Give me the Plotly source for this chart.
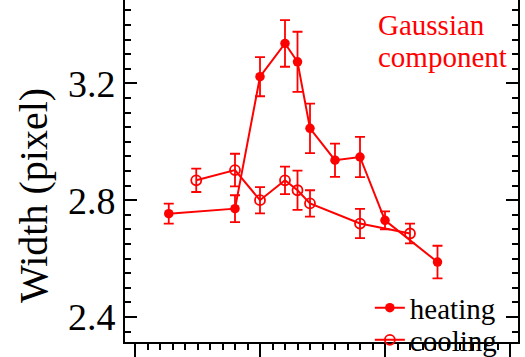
import plotly.graph_objects as go

# Data (x in arbitrary axis units; major ticks every 10)
heat_x = [2.7, 8.0, 10.0, 12.0, 13.0, 14.0, 16.0, 18.0, 20.0, 24.2]
heat_y = [2.754, 2.771, 3.223, 3.337, 3.274, 3.046, 2.937, 2.948, 2.731, 2.588]
heat_err = [0.034, 0.046, 0.067, 0.080, 0.103, 0.085, 0.057, 0.069, 0.031, 0.056]

cool_x = [4.9, 8.0, 10.0, 12.0, 13.0, 14.0, 18.0, 22.0]
cool_y = [2.868, 2.903, 2.800, 2.868, 2.834, 2.789, 2.720, 2.686]
cool_err = [0.040, 0.056, 0.045, 0.047, 0.067, 0.045, 0.050, 0.034]

y_ticks = [2.4, 2.8, 3.2]
y_ticktext = ["2.4", "2.8", "3.2"]

RED = "#FF0000"
SERIF = "Liberation Serif, Times New Roman, DejaVu Serif, serif"

fig = go.Figure()
fig.add_trace(go.Scatter(
    x=heat_x, y=heat_y, mode="lines+markers", name="heating",
    line=dict(color=RED, width=2),
    marker=dict(symbol="circle", size=9.5, color=RED),
    error_y=dict(type="data", array=heat_err, color=RED, thickness=1.8, width=5),
    legend="legend",
))
fig.add_trace(go.Scatter(
    x=cool_x, y=cool_y, mode="lines+markers", name="cooling",
    line=dict(color=RED, width=2),
    marker=dict(symbol="circle-open", size=10, color=RED, line=dict(width=1.8, color=RED)),
    error_y=dict(type="data", array=cool_err, color=RED, thickness=1.8, width=5),
    legend="legend2",
))

fig.update_layout(
    width=525, height=357,
    margin=dict(l=125, r=7, t=0, b=15, autoexpand=False),
    paper_bgcolor="white", plot_bgcolor="white",
    showlegend=True,
    font=dict(family=SERIF),
    xaxis=dict(
        range=[-0.8, 30.64], showline=True, linecolor="black", linewidth=2,
        ticks="outside", tickvals=[0, 10, 20, 30], ticklen=13, tickwidth=2, tickcolor="black",
        minor=dict(dtick=1, ticks="outside", ticklen=6, tickwidth=1.5, tickcolor="black"),
        showticklabels=False, showgrid=False, zeroline=False, mirror=False,
    ),
    xaxis2=dict(
        overlaying="x", matches="x", range=[-0.8, 30.64], side="bottom", anchor="y",
        ticks="outside", tickvals=[5, 15, 25], ticklen=10, tickwidth=1.5, tickcolor="black",
        showticklabels=False, showgrid=False, zeroline=False, showline=False,
    ),
    yaxis=dict(
        range=[2.3143, 3.4857], showline=True, linecolor="black", linewidth=2,
        ticks="inside", tickvals=y_ticks, ticktext=y_ticktext, ticklen=12, tickwidth=2,
        tickcolor="black",
        minor=dict(dtick=0.05, ticks="inside", ticklen=6, tickwidth=1.5, tickcolor="black"),
        mirror="ticks", showgrid=False, zeroline=False,
        tickfont=dict(family=SERIF, size=38, color="black"),
    ),
    legend=dict(
        x=0.623, y=0.10, xanchor="left", yanchor="middle", bgcolor="rgba(0,0,0,0)",
        font=dict(family=SERIF, size=29, color="black"),
    ),
    legend2=dict(
        x=0.623, y=0.006, xanchor="left", yanchor="middle", bgcolor="rgba(0,0,0,0)",
        font=dict(family=SERIF, size=29, color="black"),
    ),
    annotations=[
        dict(text="Width (pixel)", textangle=-90, xref="paper", yref="paper",
             x=-0.2316, y=0.43, xanchor="center", yanchor="middle", showarrow=False,
             font=dict(family=SERIF, size=40, color="black")),
        dict(text="Gaussian", xref="paper", yref="paper", x=0.638, y=0.928,
             xanchor="left", yanchor="middle", showarrow=False,
             font=dict(family=SERIF, size=29, color=RED)),
        dict(text="component", xref="paper", yref="paper", x=0.638, y=0.832,
             xanchor="left", yanchor="middle", showarrow=False,
             font=dict(family=SERIF, size=29, color=RED)),
    ],
)

fig.write_html("out.html")
